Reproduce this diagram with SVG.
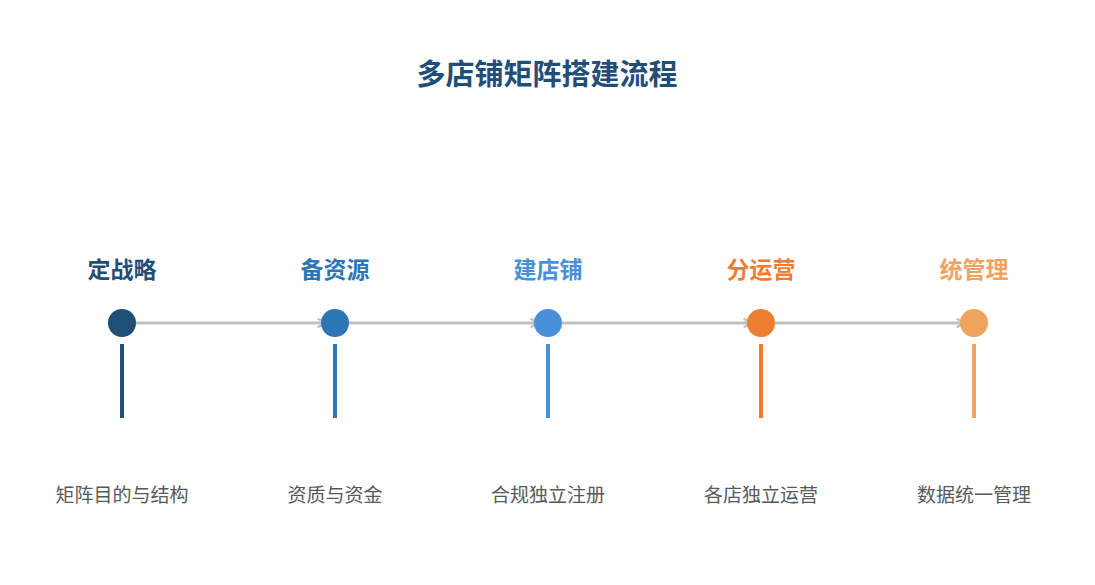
<svg xmlns="http://www.w3.org/2000/svg" width="1095" height="585" viewBox="0 0 1095 585">
<defs>
<style>
.title{font-family:"Liberation Sans","Noto Sans CJK SC",sans-serif;font-size:29px;font-weight:bold;fill:#1f4e79;text-anchor:middle}
.lbl{font-family:"Liberation Sans","Noto Sans CJK SC",sans-serif;font-size:23px;font-weight:bold;text-anchor:middle}
.desc{font-family:"Liberation Sans","Noto Sans CJK SC",sans-serif;font-size:19px;fill:#595959;text-anchor:middle}
.conn{stroke:#c0c0c0;stroke-width:3;fill:none;marker-end:url(#arr)}
</style>
<marker id="arr" viewBox="0 0 10 10" refX="9" refY="5" markerWidth="3.5" markerHeight="3.5" orient="auto" markerUnits="strokeWidth">
<path d="M1,1 L9,5 L1,9" fill="none" stroke="#c0c0c0" stroke-width="2.2"/>
</marker>
</defs>
<rect width="1095" height="585" fill="#ffffff"/>
<text class="title" x="547" y="85">多店铺矩阵搭建流程</text>
<g id="connectors">
<line class="conn" x1="136" y1="323" x2="326" y2="323"/>
<line class="conn" x1="349" y1="323" x2="539" y2="323"/>
<line class="conn" x1="562" y1="323" x2="752" y2="323"/>
<line class="conn" x1="775" y1="323" x2="965" y2="323"/>
</g>
<g id="n1">
<text class="lbl" x="122" y="278" fill="#1f4e79">定战略</text>
<circle cx="122" cy="323" r="14" fill="#1f4e79"/>
<rect x="120" y="344" width="4" height="74" fill="#1f4e79"/>
<text class="desc" x="122" y="502">矩阵目的与结构</text>
</g>
<g id="n2">
<text class="lbl" x="335" y="278" fill="#2e75b6">备资源</text>
<circle cx="335" cy="323" r="14" fill="#2e75b6"/>
<rect x="333" y="344" width="4" height="74" fill="#2e75b6"/>
<text class="desc" x="335" y="502">资质与资金</text>
</g>
<g id="n3">
<text class="lbl" x="548" y="278" fill="#4a90d9">建店铺</text>
<circle cx="548" cy="323" r="14" fill="#4a90d9"/>
<rect x="546" y="344" width="4" height="74" fill="#4a90d9"/>
<text class="desc" x="548" y="502">合规独立注册</text>
</g>
<g id="n4">
<text class="lbl" x="761" y="278" fill="#ed7d31">分运营</text>
<circle cx="761" cy="323" r="14" fill="#ed7d31"/>
<rect x="759" y="344" width="4" height="74" fill="#ed7d31"/>
<text class="desc" x="761" y="502">各店独立运营</text>
</g>
<g id="n5">
<text class="lbl" x="974" y="278" fill="#f0a35e">统管理</text>
<circle cx="974" cy="323" r="14" fill="#f0a35e"/>
<rect x="972" y="344" width="4" height="74" fill="#f0a35e"/>
<text class="desc" x="974" y="502">数据统一管理</text>
</g>
</svg>
